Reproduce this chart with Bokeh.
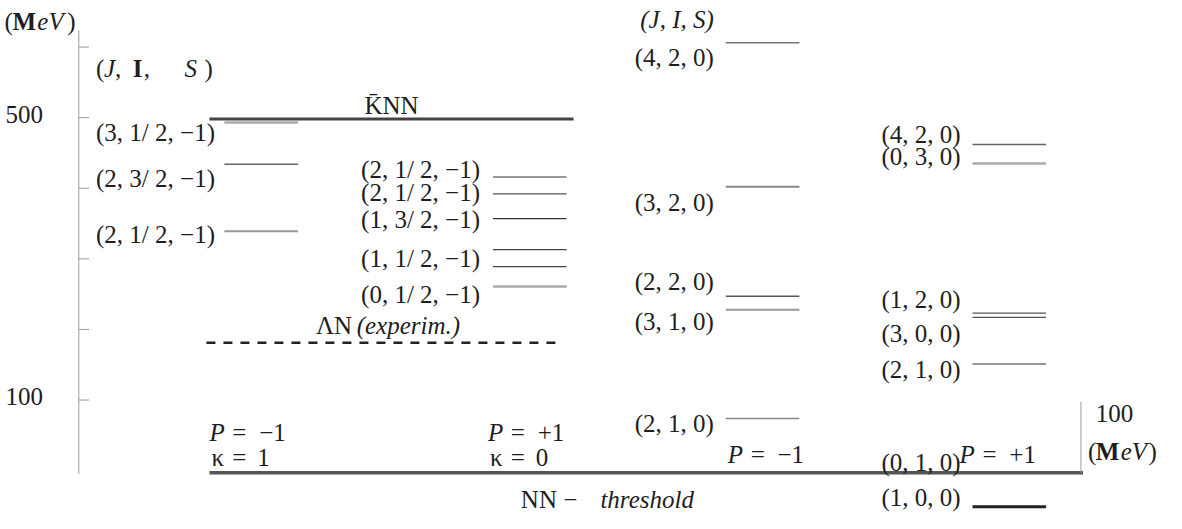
from bokeh.plotting import figure
from bokeh.models import Range1d, ColumnDataSource
from bokeh.core.properties import value
from bokeh.embed import file_html
from bokeh.resources import INLINE

# ---------------- data (energies in MeV) ----------------
axis_ticks = [600, 500, 400, 300, 200, 100]
axis_tick_labels = ["500", "100"]
axis_tick_label_values = [500, 100]

knn_threshold = 498
lambda_n_exp = 181
nn_threshold = -3

# P = -1, kappa = 1 (S = -1)
col1_E = [493, 434, 339]
col1_labels = ["(3, 1/ 2, −1)", "(2, 3/ 2, −1)", "(2, 1/ 2, −1)"]
# P = +1, kappa = 0 (S = -1)
col2_E = [416, 392, 357, 313, 289, 261]
col2_labels = ["(2, 1/ 2, −1)", "(2, 1/ 2, −1)", "(1, 3/ 2, −1)", "(1, 1/ 2, −1)", "(0, 1/ 2, −1)"]
# P = -1 (S = 0)
col3_E = [606, 402, 247, 228, 74]
col3_labels = ["(4, 2, 0)", "(3, 2, 0)", "(2, 2, 0)", "(3, 1, 0)", "(2, 1, 0)"]
# P = +1 (S = 0)
col4_E = [462, 435, 223, 217, 151, -51]
col4_labels = ["(4, 2, 0)", "(0, 3, 0)", "(1, 2, 0)", "(3, 0, 0)", "(2, 1, 0)", "(0, 1, 0)", "(1, 0, 0)"]

# ---------------- layout / styles ----------------
FONT = "Liberation Serif"
FS = "25px"
TXT = "#1e1e1e"
NB = "\u00a0"


def E(px):
    """row of the reference picture -> MeV on the figure's scale"""
    return 100 + (414 - px) / 0.728


col1_x = (229, 303)
col2_x = (499, 573)
col3_x = (733, 807)
col4_x = (981, 1055)

col1_style = (["#aaaaaa", "#666666", "#999999"], [2.5, 1.3, 2.0])
col2_style = (["#999999", "#555555", "#333333", "#444444", "#444444", "#aaaaaa"],
              [2.0, 1.3, 1.3, 1.3, 1.3, 2.5])
col3_style = (["#777777", "#888888", "#555555", "#999999", "#888888"], [1.5, 2.0, 1.3, 2.0, 1.5])
col4_style = (["#666666", "#aaaaaa", "#555555", "#555555", "#777777", "#222222"],
              [1.5, 2.5, 1.2, 1.2, 1.5, 3.0])

# vertical centres of the label texts (reference rows)
col1_label_px = [138, 186, 243]
col2_label_px = [176, 200, 228, 268, 305]
col3_label_px = [61, 210, 292, 333, 438]
col4_label_px = [140, 162.5, 310, 345, 383, 478, 514]

p = figure(width=1166, height=513, x_range=Range1d(4, 1176), y_range=Range1d(E(531), E(2)),
           output_backend="svg", toolbar_location=None, min_border=0,
           x_axis_type=None, y_axis_type=None)
p.grid.visible = False
p.outline_line_color = None
p.background_fill_color = "white"
p.border_fill_color = "white"


def txt(x, ypx, s, align="left", style="normal", size=FS, color=TXT):
    p.text(x=[x], y=[E(ypx)], text=[s], text_align=align, text_baseline="alphabetic",
           text_font=value(FONT), text_font_size=size, text_font_style=style,
           text_color=color)


# ---------------- left axis ----------------
p.segment(x0=[82.7], y0=[E(33)], x1=[82.7], y1=[E(490)], line_color="#999999", line_width=1)
p.segment(x0=[82.7] * len(axis_ticks), y0=axis_ticks, x1=[93] * len(axis_ticks), y1=axis_ticks,
          line_color="#999999", line_width=1)
p.text(x=[9] * len(axis_tick_labels),
       y=[v + 5 for v in axis_tick_label_values],
       text=axis_tick_labels, text_align="left", text_baseline="alphabetic",
       text_font=value(FONT), text_font_size=FS, text_color=TXT)

# (MeV) top-left
txt(8, 24, "(")
txt(16, 24, "M", style="bold")
txt(41, 24, "eV", style="italic")
txt(71, 24, ")")

# (J, I, S) header left
txt(100, 72, "(")
txt(108, 72, "J", style="italic")
txt(119, 72, ",")
txt(137, 72, "I", style="bold")
txt(148, 72, ",")
txt(189, 72, "S", style="italic")
txt(209, 72, ")")

# ---------------- thresholds ----------------
p.segment(x0=[214], y0=[knn_threshold], x1=[580], y1=[knn_threshold],
          line_color="#444444", line_width=3)
txt(397, 110, "K\u0304NN", align="center")

p.segment(x0=[211], y0=[lambda_n_exp], x1=[565], y1=[lambda_n_exp],
          line_color="#222222", line_width=2.5, line_dash="9 8")
txt(321, 337, "ΛN")
txt(362, 337, "(experim.)", style="italic")

p.segment(x0=[214], y0=[nn_threshold], x1=[1092], y1=[nn_threshold],
          line_color="#555555", line_width=3.5)
txt(527, 517, "NN" + NB + "−")
txt(607, 517, "threshold", style="italic")


# ---------------- level columns ----------------
def levels(xr, Es, style):
    colors, widths = style
    src = ColumnDataSource(dict(x0=[xr[0]] * len(Es), x1=[xr[1]] * len(Es), y=Es,
                                c=colors, w=widths))
    p.segment(x0="x0", y0="y", x1="x1", y1="y", line_color="c", line_width="w", source=src)


def labels(x, pxs, labs, align):
    p.text(x=[x] * len(labs), y=[E(v) for v in pxs], text=labs,
           text_align=align, text_baseline="alphabetic", text_font=value(FONT),
           text_font_size=FS, text_color=TXT)


levels(col1_x, col1_E, col1_style)
levels(col2_x, col2_E, col2_style)
levels(col3_x, col3_E, col3_style)
levels(col4_x, col4_E, col4_style)

labels(100, col1_label_px, col1_labels, "left")
labels(486, col2_label_px, col2_labels, "right")
labels(721, col3_label_px, col3_labels, "right")
labels(969, col4_label_px, col4_labels, "right")

txt(721, 22, "(J, I, S)", align="right", style="italic")


# parity / kappa annotations
def parity(x0, ypx, rhs):
    txt(x0, ypx, "P", style="italic")
    txt(x0 + 23, ypx, "=")
    txt(x0 + 50, ypx, rhs)


def kappa(x0, ypx, rhs):
    txt(x0, ypx, "κ")
    txt(x0 + 21, ypx, "=")
    txt(x0 + 46, ypx, rhs)


parity(214, 447, "−1")
kappa(216, 473, "1")
parity(494, 447, "+1")
kappa(496, 473, "0")
parity(735, 470, "−1")
parity(968, 470, "+1")

# ---------------- small right axis ----------------
p.segment(x0=[1090], y0=[E(416)], x1=[1090], y1=[E(489)], line_color="#999999", line_width=1)
txt(1105, 428, "100")
txt(1097, 467, "(")
txt(1105, 467, "M", style="bold")
txt(1130, 467, "eV", style="italic")
txt(1158, 467, ")")

open("out.html", "w").write(file_html(p, INLINE))
